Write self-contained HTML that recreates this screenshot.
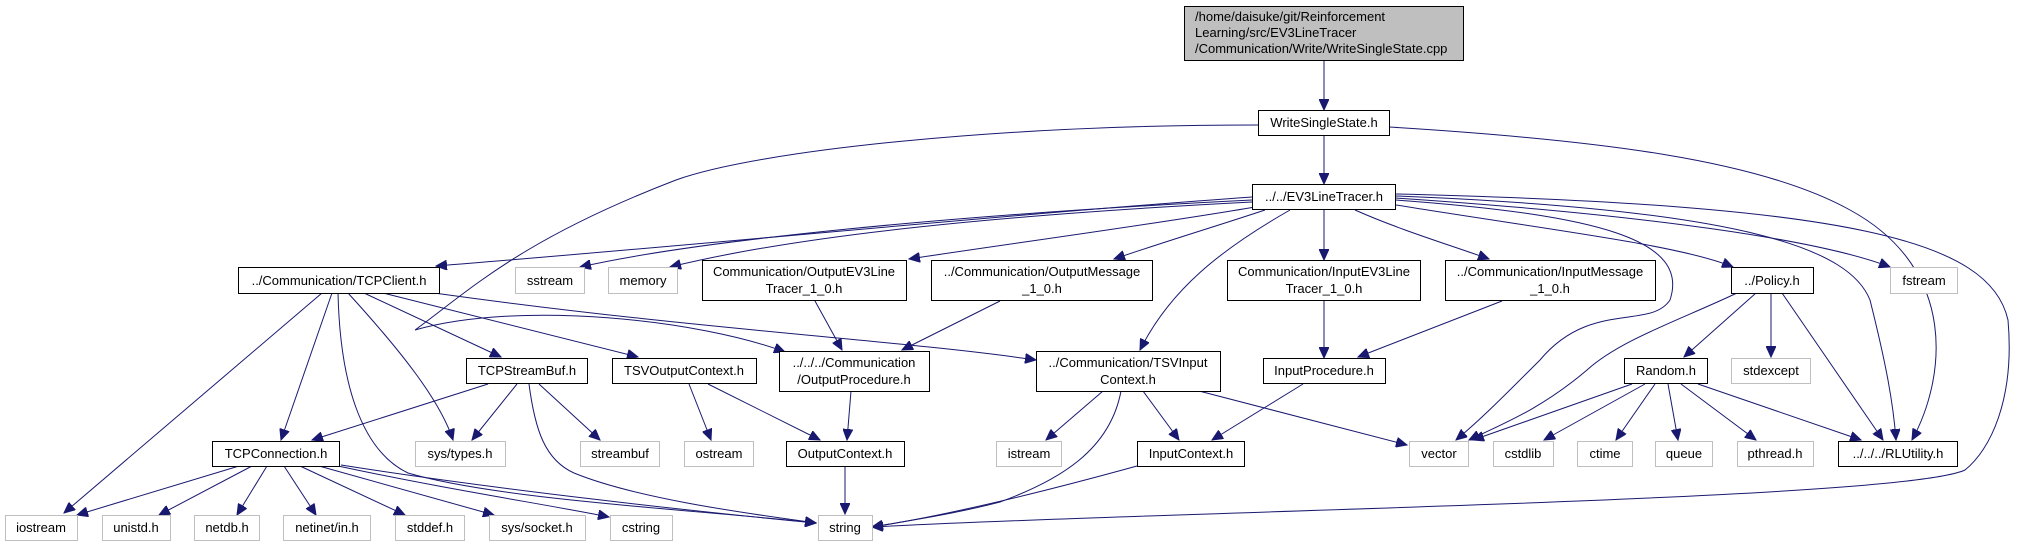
<!DOCTYPE html>
<html><head><meta charset="utf-8"><style>
html,body{margin:0;padding:0;background:#fff;}
svg{display:block;}
text{font-family:"Liberation Sans",Arial,sans-serif;font-size:13px;fill:#000;}
.b{fill:#fff;stroke:#000;stroke-width:1;}
.g{fill:#fff;stroke:#bfbfbf;stroke-width:1;}
.e{fill:none;stroke:#191970;stroke-width:1;marker-end:url(#a);}
</style></head><body>
<svg width="2022" height="547" viewBox="0 0 2022 547" xmlns="http://www.w3.org/2000/svg">
<defs><marker id="a" markerUnits="userSpaceOnUse" markerWidth="12" markerHeight="10" refX="11" refY="5" orient="auto"><path d="M0,0 L11,5 L0,10 z" fill="#191970" stroke="#191970"/></marker></defs>

<path class="e" d="M1324,61 L1324,110"/>
<path class="e" d="M1324,135 L1324,184"/>
<path class="e" d="M1258,125 C1000,125 760,150 676,180 C520,240 470,290 415,330 M415,330 C520,300 700,320 785,352"/>
<path class="e" d="M1389,127 C1600,140 1760,160 1850,210 C1960,270 1945,380 1912,440"/>
<path class="e" d="M1252,197 C1000,215 700,245 436,266"/>
<path class="e" d="M1252,200 C950,215 700,240 580,267"/>
<path class="e" d="M1252,202 C1000,215 800,235 670,267"/>
<path class="e" d="M1255,207 C1150,225 1000,245 909,259"/>
<path class="e" d="M1265,210 C1220,225 1170,240 1114,259"/>
<path class="e" d="M1290,210 C1220,250 1170,290 1140,350"/>
<path class="e" d="M1324,210 L1324,260"/>
<path class="e" d="M1355,210 C1400,230 1450,245 1489,259"/>
<path class="e" d="M1396,200 C1600,215 1690,240 1670,300 C1650,330 1590,300 1540,360 C1500,400 1480,420 1456,440"/>
<path class="e" d="M1396,205 C1550,230 1680,245 1733,267"/>
<path class="e" d="M1396,198 C1650,215 1820,240 1890,267"/>
<path class="e" d="M1396,196 C1750,210 1850,250 1870,300 C1885,360 1893,400 1896,440"/>
<path class="e" d="M1396,194 C1850,205 1990,240 2008,320 C2015,400 1990,450 1965,470 C1900,500 1200,510 872,527"/>

<path class="e" d="M322,293 L64,513"/>
<path class="e" d="M332,293 L281,440"/>
<path class="e" d="M338,293 C340,380 360,450 408,473 C500,500 700,510 816,523"/>
<path class="e" d="M348,293 C400,350 440,400 453,440"/>
<path class="e" d="M364,293 L501,357"/>
<path class="e" d="M383,293 L638,357"/>
<path class="e" d="M434,293 C700,330 900,340 1036,360"/>

<path class="e" d="M488,384 L312,440"/>
<path class="e" d="M517,384 L472,440"/>
<path class="e" d="M529,384 C535,430 545,460 574,473 C640,500 760,515 816,523"/>
<path class="e" d="M539,384 L600,440"/>
<path class="e" d="M689,384 L711,440"/>
<path class="e" d="M708,384 L820,440"/>
<path class="e" d="M815,301 L842,350"/>
<path class="e" d="M1000,301 L902,350"/>
<path class="e" d="M851,391 L847,440"/>
<path class="e" d="M845,466 L845,514"/>

<path class="e" d="M239,466 L77,515"/>
<path class="e" d="M252,466 L159,515"/>
<path class="e" d="M267,466 L237,515"/>
<path class="e" d="M284,466 L316,515"/>
<path class="e" d="M300,466 L405,515"/>
<path class="e" d="M319,466 L494,515"/>
<path class="e" d="M338,466 C450,490 550,505 609,517"/>
<path class="e" d="M341,465 C500,490 700,512 816,523"/>

<path class="e" d="M1103,391 L1046,440"/>
<path class="e" d="M1143,391 L1179,440"/>
<path class="e" d="M1121,391 C1110,450 1060,480 1000,502 C950,515 900,522 872,527"/>
<path class="e" d="M1199,391 L1407,445"/>
<path class="e" d="M1324,300 L1324,358"/>
<path class="e" d="M1502,301 L1358,357"/>
<path class="e" d="M1303,384 L1212,440"/>
<path class="e" d="M1137,466 C1050,490 950,515 872,527"/>

<path class="e" d="M1737,293 C1680,320 1620,340 1587,370 C1540,410 1500,425 1469,440"/>
<path class="e" d="M1756,293 L1684,357"/>
<path class="e" d="M1771,293 L1771,357"/>
<path class="e" d="M1782,293 L1883,440"/>
<path class="e" d="M1632,384 L1473,440"/>
<path class="e" d="M1645,384 L1544,440"/>
<path class="e" d="M1655,384 L1616,440"/>
<path class="e" d="M1668,384 L1678,440"/>
<path class="e" d="M1681,384 L1756,440"/>
<path class="e" d="M1698,384 L1861,440"/>

<rect x="1184.5" y="6.5" width="279" height="54" fill="#bfbfbf" stroke="#000"/>
<text x="1195" y="21">/home/daisuke/git/Reinforcement</text>
<text x="1195" y="37">Learning/src/EV3LineTracer</text>
<text x="1195" y="53">/Communication/Write/WriteSingleState.cpp</text>

<rect class="b" x="1258.5" y="110.5" width="131" height="25"/><text x="1324" y="127" text-anchor="middle">WriteSingleState.h</text>
<rect class="b" x="1252.5" y="184.5" width="143" height="25"/><text x="1324" y="201" text-anchor="middle">../../EV3LineTracer.h</text>

<rect class="b" x="238.5" y="267.5" width="201" height="26"/><text x="339" y="285" text-anchor="middle">../Communication/TCPClient.h</text>
<rect class="g" x="515.5" y="267.5" width="69" height="26"/><text x="550" y="285" text-anchor="middle">sstream</text>
<rect class="g" x="608.5" y="267.5" width="69" height="26"/><text x="643" y="285" text-anchor="middle">memory</text>
<rect class="b" x="702.5" y="260.5" width="204" height="40"/><text x="804" y="276" text-anchor="middle">Communication/OutputEV3Line</text><text x="804" y="293" text-anchor="middle">Tracer_1_0.h</text>
<rect class="b" x="931.5" y="260.5" width="221" height="40"/><text x="1042" y="276" text-anchor="middle">../Communication/OutputMessage</text><text x="1042" y="293" text-anchor="middle">_1_0.h</text>
<rect class="b" x="1227.5" y="260.5" width="193" height="40"/><text x="1324" y="276" text-anchor="middle">Communication/InputEV3Line</text><text x="1324" y="293" text-anchor="middle">Tracer_1_0.h</text>
<rect class="b" x="1445.5" y="260.5" width="210" height="40"/><text x="1550" y="276" text-anchor="middle">../Communication/InputMessage</text><text x="1550" y="293" text-anchor="middle">_1_0.h</text>
<rect class="b" x="1731.5" y="267.5" width="82" height="26"/><text x="1772" y="285" text-anchor="middle">../Policy.h</text>
<rect class="g" x="1890.5" y="267.5" width="67" height="26"/><text x="1924" y="285" text-anchor="middle">fstream</text>

<rect class="b" x="466.5" y="358.5" width="121" height="25"/><text x="527" y="375" text-anchor="middle">TCPStreamBuf.h</text>
<rect class="b" x="612.5" y="358.5" width="144" height="25"/><text x="684" y="375" text-anchor="middle">TSVOutputContext.h</text>
<rect class="b" x="779.5" y="351.5" width="150" height="40"/><text x="854" y="367" text-anchor="middle">../../../Communication</text><text x="854" y="384" text-anchor="middle">/OutputProcedure.h</text>
<rect class="b" x="1036.5" y="351.5" width="184" height="40"/><text x="1128" y="367" text-anchor="middle">../Communication/TSVInput</text><text x="1128" y="384" text-anchor="middle">Context.h</text>
<rect class="b" x="1263.5" y="358.5" width="122" height="25"/><text x="1324" y="375" text-anchor="middle">InputProcedure.h</text>
<rect class="b" x="1624.5" y="358.5" width="83" height="25"/><text x="1666" y="375" text-anchor="middle">Random.h</text>
<rect class="g" x="1731.5" y="358.5" width="79" height="25"/><text x="1771" y="375" text-anchor="middle">stdexcept</text>

<rect class="b" x="212.5" y="441.5" width="127" height="25"/><text x="276" y="458" text-anchor="middle">TCPConnection.h</text>
<rect class="g" x="415.5" y="441.5" width="90" height="25"/><text x="460" y="458" text-anchor="middle">sys/types.h</text>
<rect class="g" x="580.5" y="441.5" width="79" height="25"/><text x="620" y="458" text-anchor="middle">streambuf</text>
<rect class="g" x="684.5" y="441.5" width="69" height="25"/><text x="719" y="458" text-anchor="middle">ostream</text>
<rect class="b" x="786.5" y="441.5" width="118" height="25"/><text x="845" y="458" text-anchor="middle">OutputContext.h</text>
<rect class="g" x="996.5" y="441.5" width="65" height="25"/><text x="1029" y="458" text-anchor="middle">istream</text>
<rect class="b" x="1137.5" y="441.5" width="107" height="25"/><text x="1191" y="458" text-anchor="middle">InputContext.h</text>
<rect class="g" x="1409.5" y="441.5" width="59" height="25"/><text x="1439" y="458" text-anchor="middle">vector</text>
<rect class="g" x="1493.5" y="441.5" width="60" height="25"/><text x="1523" y="458" text-anchor="middle">cstdlib</text>
<rect class="g" x="1577.5" y="441.5" width="55" height="25"/><text x="1605" y="458" text-anchor="middle">ctime</text>
<rect class="g" x="1655.5" y="441.5" width="57" height="25"/><text x="1684" y="458" text-anchor="middle">queue</text>
<rect class="g" x="1737.5" y="441.5" width="76" height="25"/><text x="1775" y="458" text-anchor="middle">pthread.h</text>
<rect class="b" x="1838.5" y="441.5" width="119" height="25"/><text x="1898" y="458" text-anchor="middle">../../../RLUtility.h</text>

<rect class="g" x="5.5" y="515.5" width="72" height="25"/><text x="41" y="532" text-anchor="middle">iostream</text>
<rect class="g" x="102.5" y="515.5" width="68" height="25"/><text x="136" y="532" text-anchor="middle">unistd.h</text>
<rect class="g" x="194.5" y="515.5" width="65" height="25"/><text x="227" y="532" text-anchor="middle">netdb.h</text>
<rect class="g" x="283.5" y="515.5" width="87" height="25"/><text x="327" y="532" text-anchor="middle">netinet/in.h</text>
<rect class="g" x="395.5" y="515.5" width="69" height="25"/><text x="430" y="532" text-anchor="middle">stddef.h</text>
<rect class="g" x="489.5" y="515.5" width="96" height="25"/><text x="537" y="532" text-anchor="middle">sys/socket.h</text>
<rect class="g" x="610.5" y="515.5" width="62" height="25"/><text x="641" y="532" text-anchor="middle">cstring</text>
<rect class="g" x="818.5" y="515.5" width="54" height="25"/><text x="845" y="532" text-anchor="middle">string</text>
</svg>
</body></html>
